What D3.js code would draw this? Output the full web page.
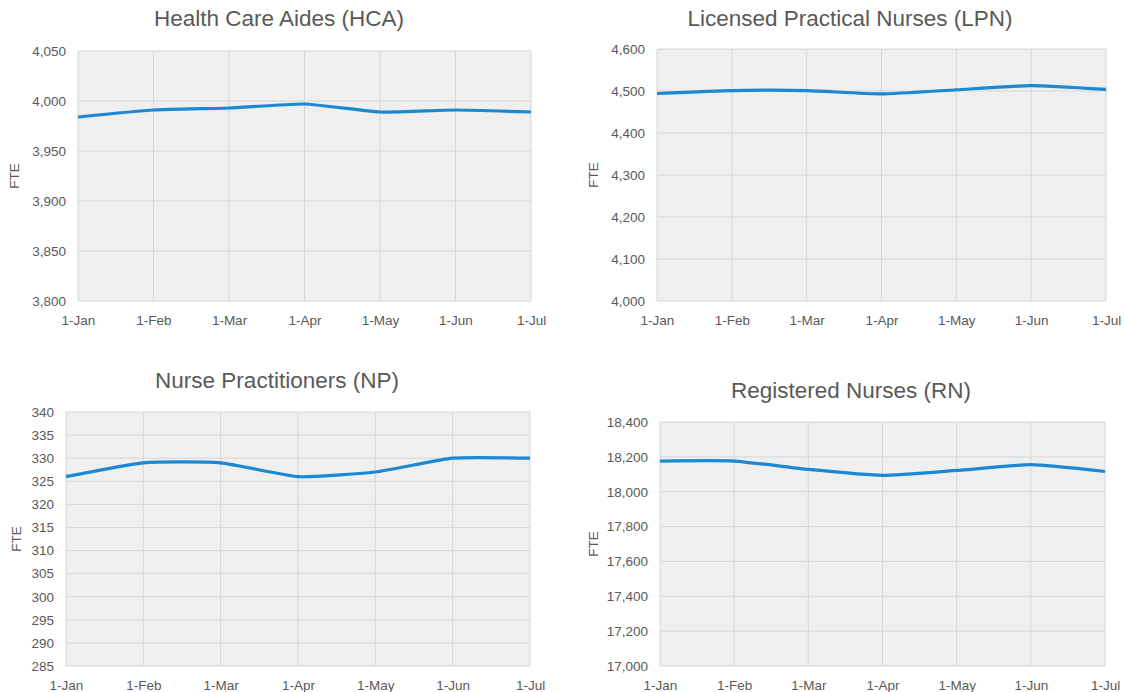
<!DOCTYPE html>
<html>
<head>
<meta charset="utf-8">
<title>FTE by profession</title>
<script src="https://cdn.jsdelivr.net/npm/d3@7"></script>
<style>
  body { margin: 0; background: #fff; }
  text { font-family: "Liberation Sans", Arial, sans-serif; fill: #595959; }
  .title { font-size: 22.5px; }
  .tick text { font-size: 13.5px; }
  .ylab { font-size: 13.5px; }
</style>
</head>
<body>
<script>
// months on the x axis
var months = ["1-Jan", "1-Feb", "1-Mar", "1-Apr", "1-May", "1-Jun", "1-Jul"];

// FTE values
var hca = [3984, 3991, 3993, 3997, 3989, 3991, 3989];
var lpn = [4494, 4501, 4501, 4493, 4503, 4513, 4504];
var np  = [326, 329, 329, 326, 327, 330, 330];
var rn  = [18176, 18176, 18128, 18094, 18122, 18155, 18116];

// y tick values
var hcaTicks = [3800, 3850, 3900, 3950, 4000, 4050];
var lpnTicks = [4000, 4100, 4200, 4300, 4400, 4500, 4600];
var npTicks  = [285, 290, 295, 300, 305, 310, 315, 320, 325, 330, 335, 340];
var rnTicks  = [17000, 17200, 17400, 17600, 17800, 18000, 18200, 18400];

var titles = ["Health Care Aides (HCA)", "Licensed Practical Nurses (LPN)",
              "Nurse Practitioners (NP)", "Registered Nurses (RN)"];

var width = 1124, height = 692;

var svg = d3.select("body").append("svg")
    .attr("width", width)
    .attr("height", height);

// panel boxes (plot area) and where the title / FTE label sit
var panels = [
  {values: hca, ticks: hcaTicks, title: titles[0], x0: 78,  x1: 531,  y0: 51,  y1: 301, titleX: 279, titleY: 26,  labX: 19},
  {values: lpn, ticks: lpnTicks, title: titles[1], x0: 657, x1: 1106, y0: 49,  y1: 301, titleX: 850, titleY: 26,  labX: 598},
  {values: np,  ticks: npTicks,  title: titles[2], x0: 66,  x1: 530,  y0: 412, y1: 666, titleX: 277, titleY: 388, labX: 21},
  {values: rn,  ticks: rnTicks,  title: titles[3], x0: 660, x1: 1105, y0: 422, y1: 666, titleX: 851, titleY: 398, labX: 598}
];

var fmt = d3.format(",");

panels.forEach(function(p) {
  var x = d3.scalePoint().domain(months).range([p.x0, p.x1]);
  var y = d3.scaleLinear()
      .domain(d3.extent(p.ticks))
      .range([p.y1, p.y0]);

  var g = svg.append("g");

  g.append("rect")
      .attr("x", p.x0).attr("y", p.y0)
      .attr("width", p.x1 - p.x0).attr("height", p.y1 - p.y0)
      .attr("fill", "#efefef");

  // horizontal grid
  g.selectAll(".hg").data(p.ticks).enter().append("line")
      .attr("x1", p.x0).attr("x2", p.x1)
      .attr("y1", function(d) { return y(d); })
      .attr("y2", function(d) { return y(d); })
      .attr("stroke", "#d6d6d6").attr("stroke-width", 1);

  // vertical grid
  g.selectAll(".vg").data(months).enter().append("line")
      .attr("x1", function(d) { return x(d); })
      .attr("x2", function(d) { return x(d); })
      .attr("y1", p.y0).attr("y2", p.y1)
      .attr("stroke", "#d6d6d6").attr("stroke-width", 1);

  // axes, without domain lines and tick marks
  var xAxis = g.append("g")
      .attr("transform", "translate(0," + p.y1 + ")")
      .call(d3.axisBottom(x).tickSize(0).tickPadding(14));
  xAxis.select(".domain").remove();

  var yAxis = g.append("g")
      .attr("transform", "translate(" + p.x0 + ",0)")
      .call(d3.axisLeft(y).tickValues(p.ticks).tickFormat(fmt).tickSize(0).tickPadding(12));
  yAxis.select(".domain").remove();

  g.selectAll(".tick text").attr("fill", "#595959").style("font-family", "\"Liberation Sans\", Arial, sans-serif");

  g.append("text")
      .attr("class", "title")
      .attr("x", p.titleX).attr("y", p.titleY)
      .attr("text-anchor", "middle")
      .text(p.title);

  var midY = (p.y0 + p.y1) / 2;
  g.append("text")
      .attr("class", "ylab")
      .attr("transform", "translate(" + p.labX + "," + midY + ") rotate(-90)")
      .attr("text-anchor", "middle")
      .text("FTE");

  var line = d3.line()
      .x(function(d, i) { return x(months[i]); })
      .y(function(d) { return y(d); })
      .curve(d3.curveCardinal.tension(0.5));

  g.append("path")
      .datum(p.values)
      .attr("fill", "none")
      .attr("stroke", "#1a88d2")
      .attr("stroke-width", 3.2)
      .attr("stroke-linejoin", "round")
      .attr("d", line);
});
</script>
</body>
</html>
